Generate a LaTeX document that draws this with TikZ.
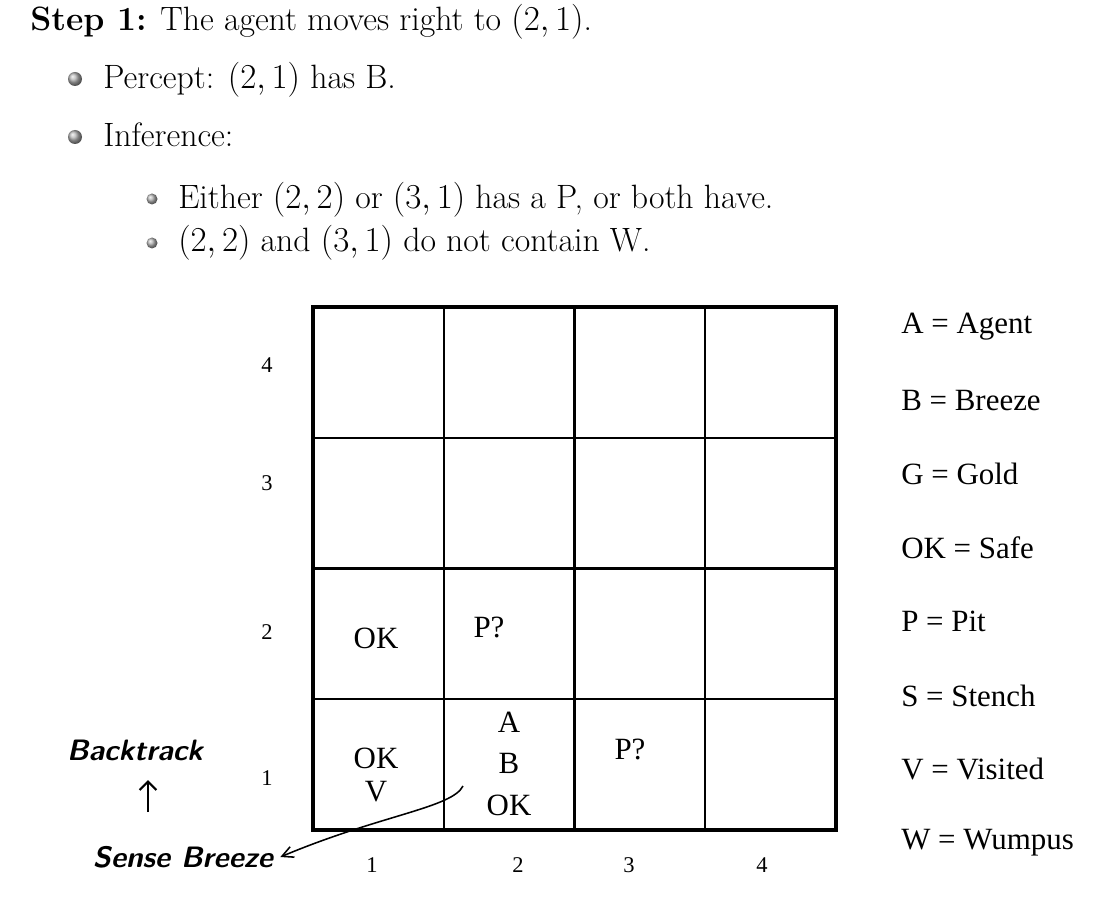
\documentclass[tikz,border=0pt]{standalone}
\usepackage{amsmath}
\usepackage{fontspec}
\newfontfamily\tnr{Liberation Serif}
\usetikzlibrary{arrows.meta, positioning}

\tikzset{
  hdr/.style={anchor=base west, inner sep=0pt, font=\fontsize{24}{28}\selectfont},
  cell/.style={inner sep=0pt, font=\tnr\fontsize{22}{26}\selectfont},
  axis/.style={inner sep=0pt, font=\tnr\fontsize{16}{19}\selectfont},
  legend/.style={anchor=west, inner sep=0pt, font=\tnr\fontsize{22}{26}\selectfont},
  hand/.style={inner sep=1pt, font=\sffamily\itshape\bfseries\fontsize{21}{25}\selectfont},
}

\begin{document}
\begin{tikzpicture}[x=0.025cm,y=-0.025cm]
\useasboundingbox (0,0) rectangle (1103,899);
\def\c{130.75}
% header text
\node[hdr] (step) at (30,31) {\textbf{Step 1:} The agent moves right to $(2,1)$.};
\node[hdr] (percept) at (103,89) {Percept: $(2,1)$ has B.};
\node[hdr] (infer) at (103,147) {Inference:};
\node[hdr] (either) at (178,209) {Either $(2,2)$ or $(3,1)$ has a P, or both have.};
\node[hdr] (nowump) at (178,252) {$(2,2)$ and $(3,1)$ do not contain W.};
\foreach \p in {(75,79),(75,137)}{
  \shade[ball color=gray!60] \p circle (7);
}
\foreach \p in {(152,199),(152,243)}{
  \shade[ball color=gray!60] \p circle (5.5);
}
% the 4x4 cave
\foreach \i in {1,2,3}{
  \draw[line width=1.5pt] (313+\i*\c,307) -- (313+\i*\c,830);
  \draw[line width=1.5pt] (313,307+\i*\c) -- (836,307+\i*\c);
}
\draw[line width=2.5pt] (313,307) rectangle (836,830);
\foreach \n/\y in {4/365,3/483,2/632,1/778}{
  \node[axis] (row\n) at (267,\y) {\n};
}
\foreach \n/\x in {1/372,2/518,3/629,4/762}{
  \node[axis] (col\n) at (\x,865) {\n};
}
% cell contents
\node[cell] (ok12) at (376,638) {OK};
\node[cell] (pit22) at (489,627) {P?};
\node[cell] (ok11) at (376,758) {OK};
\node[cell] (v11) at (376,792) {V};
\node[cell] (a21) at (509,722) {A};
\node[cell] (b21) at (509,763) {B};
\node[cell] (ok21) at (509,805) {OK};
\node[cell] (pit31) at (630,749) {P?};
% legend
\foreach \t [count=\k from 0] in {A = Agent,B = Breeze,G = Gold,OK = Safe,P = Pit,S = Stench,V = Visited,W = Wumpus}{
  \node[legend] (key\k) at (901,327+\k*73.7) {\t};
}
% notes
\node[hand] (back) at (135,750) {Backtrack};
\node[hand] (sense) at (183,857) {Sense Breeze};
\coordinate (mark) at (463,786);
\coordinate (upfoot) at (148,812);
\coordinate (uphead) at (148,780);
\draw[line width=1.6pt, -{Straight Barb[length=6pt]}] (upfoot) -- (uphead);
\draw[line width=1.1pt, -{Straight Barb[length=8pt,width=8pt]}] (mark) .. controls (452,808) and (380,815) .. ([xshift=4]sense.east);
\end{tikzpicture}
\end{document}
